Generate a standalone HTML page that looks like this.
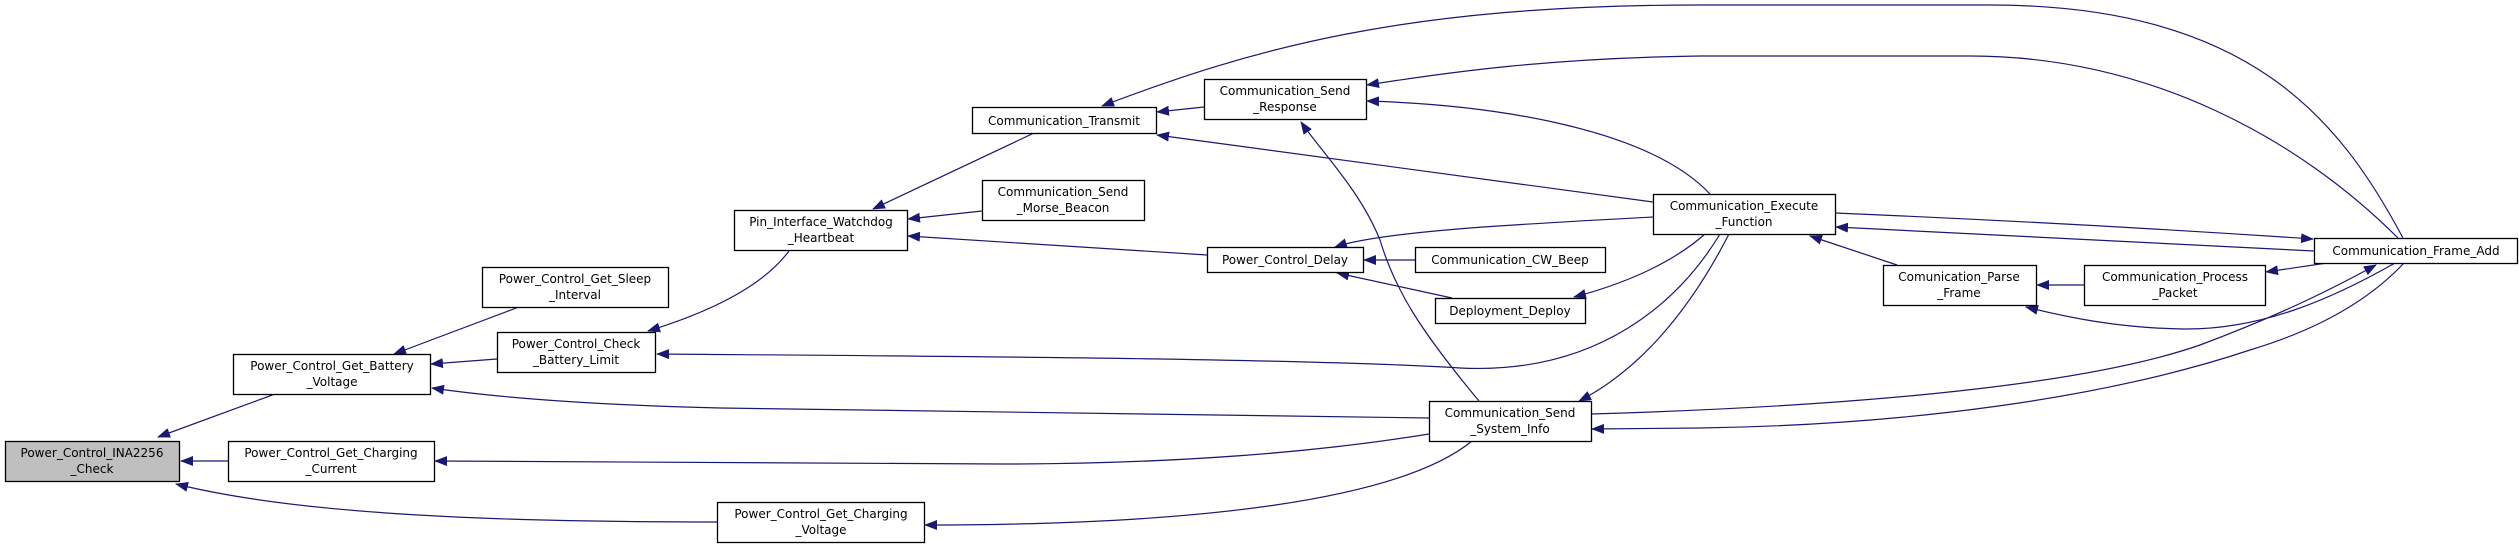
<!DOCTYPE html>
<html><head><meta charset="utf-8"><style>
html,body{margin:0;padding:0;background:#fff;}
svg{display:block;}
text{font-family:"DejaVu Sans","Liberation Sans",sans-serif;font-size:12px;fill:#000;text-anchor:middle;}
.e{fill:none;stroke:#191970;stroke-width:1.2;marker-end:url(#a);}
rect{fill:#fff;stroke:#000;stroke-width:1.3;}
</style></head><body>
<svg width="2519" height="546" viewBox="0 0 2519 546" xmlns="http://www.w3.org/2000/svg">
<defs><marker id="a" markerWidth="13" markerHeight="10" refX="12" refY="5" orient="auto" markerUnits="userSpaceOnUse"><path d="M0,0 L13,5 L0,10 z" fill="#191970"/></marker></defs>
<path class="e" d="M275,394 L158,437"/>
<path class="e" d="M228,461 L181,461"/>
<path class="e" d="M717,522 C500,522 300,515 176,484"/>
<path class="e" d="M519,307 L394,354"/>
<path class="e" d="M497,359 L431,364"/>
<path class="e" d="M1429,418 C1100,412 800,410 720,408 C600,405 500,398 432,388"/>
<path class="e" d="M1720,234 C1680,300 1600,375 1460,368 C1300,358 900,356 657,354"/>
<path class="e" d="M789,251 C760,290 700,315 648,331"/>
<path class="e" d="M1034,133 L873,209"/>
<path class="e" d="M982,211 L908,219"/>
<path class="e" d="M1207,255 L908,236"/>
<path class="e" d="M1204,107 L1157,112"/>
<path class="e" d="M1653,202 L1157,135"/>
<path class="e" d="M2403,238 C2340,120 2250,5 1990,5 L1700,5 C1400,5 1250,50 1102,106"/>
<path class="e" d="M2398,238 C2300,140 2150,56 1970,56 L1700,56 C1550,58 1450,72 1367,85"/>
<path class="e" d="M1710,194 C1650,130 1500,105 1367,101"/>
<path class="e" d="M1479,401 C1420,330 1395,290 1380,240 C1360,190 1320,150 1301,122"/>
<path class="e" d="M1653,217 C1500,225 1380,232 1335,247"/>
<path class="e" d="M1415,260 L1364,260"/>
<path class="e" d="M1452,298 L1337,273"/>
<path class="e" d="M1705,234 C1670,265 1620,285 1574,297"/>
<path class="e" d="M1729,234 C1690,310 1640,370 1579,401"/>
<path class="e" d="M2314,251 C2100,240 1950,233 1836,227"/>
<path class="e" d="M1835,213 C2000,220 2150,228 2313,239"/>
<path class="e" d="M1897,265 L1810,236"/>
<path class="e" d="M2084,285 L2037,285"/>
<path class="e" d="M2327,263 L2266,272"/>
<path class="e" d="M2395,263 C2330,300 2260,330 2183,329 C2120,328 2070,318 2026,307"/>
<path class="e" d="M1591,414 C1900,405 2100,380 2200,345 C2280,315 2330,290 2376,265"/>
<path class="e" d="M2404,263 C2360,310 2300,335 2250,350 C2100,400 1900,425 1700,428 L1592,429"/>
<path class="e" d="M1429,434 C1300,455 1150,464 1000,464 L435,461"/>
<path class="e" d="M1472,441 C1400,500 1200,525 925,525"/>
<rect x="5.5" y="441.5" width="174" height="40" style="fill:#bfbfbf"/>
<text x="92" y="457">Power_Control_INA2256</text><text x="92" y="473">_Check</text>
<rect x="233.5" y="354.5" width="197" height="40"/>
<text x="332" y="370">Power_Control_Get_Battery</text><text x="332" y="386">_Voltage</text>
<rect x="228.5" y="441.5" width="206" height="40"/>
<text x="331" y="457">Power_Control_Get_Charging</text><text x="331" y="473">_Current</text>
<rect x="482.5" y="267.5" width="186" height="40"/>
<text x="575" y="283">Power_Control_Get_Sleep</text><text x="575" y="299">_Interval</text>
<rect x="497.5" y="332.5" width="158" height="40"/>
<text x="576" y="348">Power_Control_Check</text><text x="576" y="364">_Battery_Limit</text>
<rect x="717.5" y="502.5" width="207" height="40"/>
<text x="821" y="518">Power_Control_Get_Charging</text><text x="821" y="534">_Voltage</text>
<rect x="734.5" y="210.5" width="173" height="40"/>
<text x="821" y="226">Pin_Interface_Watchdog</text><text x="821" y="242">_Heartbeat</text>
<rect x="972.5" y="107.5" width="184" height="26"/>
<text x="1064" y="125">Communication_Transmit</text>
<rect x="982.5" y="180.5" width="162" height="40"/>
<text x="1063" y="196">Communication_Send</text><text x="1063" y="212">_Morse_Beacon</text>
<rect x="1204.5" y="79.5" width="162" height="40"/>
<text x="1285" y="95">Communication_Send</text><text x="1285" y="111">_Response</text>
<rect x="1207.5" y="247.5" width="156" height="25"/>
<text x="1285" y="264">Power_Control_Delay</text>
<rect x="1415.5" y="247.5" width="190" height="25"/>
<text x="1510" y="264">Communication_CW_Beep</text>
<rect x="1435.5" y="298.5" width="150" height="25"/>
<text x="1510" y="315">Deployment_Deploy</text>
<rect x="1429.5" y="401.5" width="162" height="40"/>
<text x="1510" y="417">Communication_Send</text><text x="1510" y="433">_System_Info</text>
<rect x="1653.5" y="194.5" width="182" height="40"/>
<text x="1744" y="210">Communication_Execute</text><text x="1744" y="226">_Function</text>
<rect x="1883.5" y="265.5" width="153" height="40"/>
<text x="1959" y="281">Comunication_Parse</text><text x="1959" y="297">_Frame</text>
<rect x="2084.5" y="265.5" width="181" height="40"/>
<text x="2175" y="281">Communication_Process</text><text x="2175" y="297">_Packet</text>
<rect x="2314.5" y="238.5" width="203" height="25"/>
<text x="2416" y="255">Communication_Frame_Add</text>
</svg>
</body></html>
